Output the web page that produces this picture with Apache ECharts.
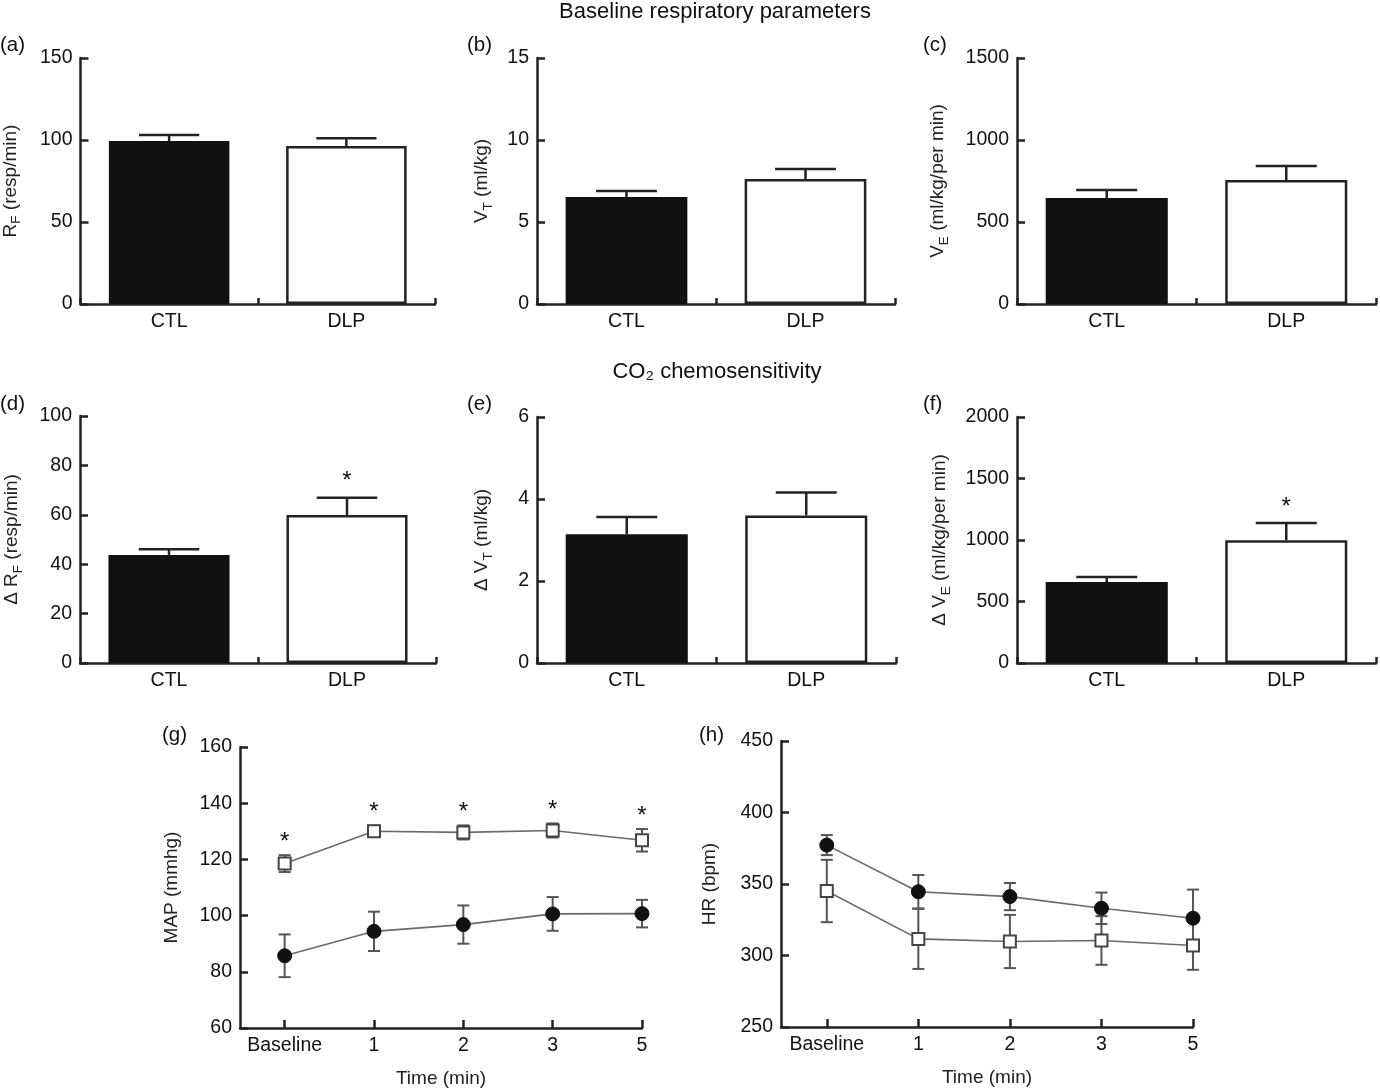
<!DOCTYPE html>
<html>
<head>
<meta charset="utf-8">
<script src="https://cdn.jsdelivr.net/npm/echarts@6/dist/echarts.min.js"></script>
<style>
html,body{margin:0;padding:0;background:#fff;}
#chart{width:1380px;height:1090px;}
</style>
</head>
<body>
<div id="chart"></div>
<script>
// ---------------- data ----------------
const groups = ['CTL', 'DLP'];

const rfMean = [99.4, 96.3];
const rfErr = [3.6, 4.7];
const vtMean = [6.52, 7.62];
const vtErr = [0.37, 0.61];
const veMean = [646, 756];
const veErr = [49, 85];

const dRfMean = [43.7, 59.9];
const dRfErr = [2.4, 7.0];
const dRfStar = [0, 1];
const dVtMean = [3.14, 3.60];
const dVtErr = [0.42, 0.56];
const dVtStar = [0, 0];
const dVeMean = [658, 998];
const dVeErr = [41, 141];
const dVeStar = [0, 1];

const times = ['Baseline', '1', '2', '3', '5'];
const mapCTL = [85.7, 94.4, 96.8, 100.6, 100.7];
const mapCTLErr = [7.6, 7.0, 6.8, 6.0, 4.9];
const mapDLP = [118.5, 130.0, 129.6, 130.3, 126.8];
const mapDLPErr = [3.0, 2.0, 2.5, 2.5, 4.0];
const mapStar = [1, 1, 1, 1, 1];

const hrCTL = [377.2, 344.6, 341.2, 333.0, 326.1];
const hrCTLErr = [7.0, 11.7, 9.5, 11.0, 20.0];
const hrDLP = [345.1, 311.6, 309.8, 310.5, 307.0];
const hrDLPErr = [21.8, 21.0, 18.6, 17.0, 17.0];

const yTicksA = [0, 150, 50];
const yTicksB = [0, 15, 5];
const yTicksC = [0, 1500, 500];
const yTicksD = [0, 100, 20];
const yTicksE = [0, 6, 2];
const yTicksF = [0, 2000, 500];
const yTicksG = [60, 160, 20];
const yTicksH = [250, 450, 50];

// ---------------- styling ----------------
const FONT = 'Liberation Sans';
const AX = '#222';
const rich = {
  m: {fontSize: 19, fontFamily: FONT, color: '#222', lineHeight: 26, verticalAlign: 'middle'},
  s: {fontSize: 13.5, fontFamily: FONT, color: '#222', lineHeight: 13, verticalAlign: 'bottom'}
};

const grids = [
  {left: 80, top: 58, width: 355, height: 246},
  {left: 537, top: 58, width: 358, height: 246},
  {left: 1017, top: 58, width: 359, height: 246},
  {left: 80, top: 416, width: 356, height: 247},
  {left: 537, top: 417, width: 359, height: 246},
  {left: 1017, top: 417, width: 359, height: 246},
  {left: 240, top: 747, width: 402, height: 281},
  {left: 781, top: 741, width: 412, height: 286}
];

const baseLine = {show: true, onZero: false, lineStyle: {color: AX, width: 2.5}};
const baseTick = {show: true, inside: true, length: 8, lineStyle: {color: AX, width: 2.5}};
const baseLabel = {color: '#111', fontSize: 19.5, fontFamily: FONT, margin: 8};

function yAx(gi, t, name, gap) {
  return {
    type: 'value', gridIndex: gi, min: t[0], max: t[1], interval: t[2],
    axisLine: baseLine,
    axisTick: baseTick,
    axisLabel: Object.assign({}, baseLabel, {formatter: v => String(v)}),
    splitLine: {show: false},
    name: name, nameLocation: 'middle', nameGap: gap, nameRotate: 90,
    nameTextStyle: {rich: rich, fontSize: 19, fontFamily: FONT, color: '#222'}
  };
}
function xCat(gi) {
  return {
    type: 'category', gridIndex: gi, data: groups, boundaryGap: true,
    axisLine: baseLine,
    axisTick: {show: true, inside: true, length: 6, alignWithLabel: false, lineStyle: {color: AX, width: 2.5}},
    axisLabel: baseLabel
  };
}
function xTime(gi) {
  const idx = times.map((t, i) => i);
  return {
    type: 'value', gridIndex: gi, min: -0.5, max: times.length - 1,
    axisLine: baseLine,
    axisTick: Object.assign({}, baseTick, {customValues: idx}),
    axisLabel: Object.assign({}, baseLabel, {customValues: idx, formatter: v => times[Math.round(v)]}),
    splitLine: {show: false},
    name: 'Time (min)', nameLocation: 'middle', nameGap: 41,
    nameTextStyle: {fontSize: 19, fontFamily: FONT, color: '#222'}
  };
}

function barSeries(gi, mean) {
  return {
    type: 'bar', xAxisIndex: gi, yAxisIndex: gi, barWidth: '68%',
    data: mean.map((v, i) => ({
      value: v,
      itemStyle: i === 0 ? {color: '#111', borderColor: '#111', borderWidth: 2}
                         : {color: '#fff', borderColor: '#222', borderWidth: 2.5}
    })),
    silent: true, z: 2
  };
}
function barErrSeries(gi, mean, err) {
  return {
    type: 'custom', xAxisIndex: gi, yAxisIndex: gi, z: 3, silent: true,
    encode: {x: 0, y: [1, 2]},
    data: mean.map((v, i) => [i, v, v + err[i]]),
    renderItem: function (params, api) {
      const p0 = api.coord([api.value(0), api.value(1)]);
      const p1 = api.coord([api.value(0), api.value(2)]);
      const hw = api.size([1, 0])[0] * 0.17;
      const st = {stroke: AX, lineWidth: 2.5};
      return {type: 'group', children: [
        {type: 'line', shape: {x1: p0[0], y1: p0[1], x2: p1[0], y2: p1[1]}, style: st},
        {type: 'line', shape: {x1: p1[0] - hw, y1: p1[1], x2: p1[0] + hw, y2: p1[1]}, style: st}
      ]};
    }
  };
}
function starSeries(gi, mean, err, flags, offset) {
  const d = [];
  flags.forEach((f, i) => { if (f) d.push([i, mean[i] + err[i]]); });
  return {
    type: 'custom', xAxisIndex: gi, yAxisIndex: gi, z: 5, silent: true,
    encode: {x: 0, y: 1},
    data: d,
    renderItem: function (params, api) {
      const p = api.coord([api.value(0), api.value(1)]);
      return {type: 'text', x: p[0], y: p[1] - offset,
        style: {text: '*', fontSize: 24, fontFamily: FONT, fill: '#111', align: 'center', verticalAlign: 'middle'}};
    }
  };
}
function lineSeries(gi, vals, filled) {
  return {
    type: 'line', xAxisIndex: gi, yAxisIndex: gi, z: 4, silent: true,
    data: vals.map((v, i) => [i, v]),
    symbol: filled ? 'circle' : 'rect',
    symbolSize: filled ? 14 : 12,
    showAllSymbol: true,
    lineStyle: {color: '#6a6a6a', width: 1.6},
    itemStyle: filled ? {color: '#111', borderColor: '#111', borderWidth: 1}
                      : {color: '#fff', borderColor: '#444', borderWidth: 2}
  };
}
function lineErrSeries(gi, vals, err) {
  return {
    type: 'custom', xAxisIndex: gi, yAxisIndex: gi, z: 3, silent: true,
    encode: {x: 0, y: [1, 2]},
    data: vals.map((v, i) => [i, v - err[i], v + err[i]]),
    renderItem: function (params, api) {
      const lo = api.coord([api.value(0), api.value(1)]);
      const hi = api.coord([api.value(0), api.value(2)]);
      const hw = 6;
      const st = {stroke: '#555', lineWidth: 2};
      return {type: 'group', children: [
        {type: 'line', shape: {x1: lo[0], y1: lo[1], x2: hi[0], y2: hi[1]}, style: st},
        {type: 'line', shape: {x1: hi[0] - hw, y1: hi[1], x2: hi[0] + hw, y2: hi[1]}, style: st},
        {type: 'line', shape: {x1: lo[0] - hw, y1: lo[1], x2: lo[0] + hw, y2: lo[1]}, style: st}
      ]};
    }
  };
}

function txt(x, y, s, size, align) {
  return {type: 'text', x: x, y: y, silent: true,
    style: {text: s, fontSize: size, fontFamily: FONT, fill: '#111', align: align || 'left', verticalAlign: 'middle'}};
}

const option = {
  backgroundColor: '#fff',
  animation: false,
  grid: grids,
  xAxis: [xCat(0), xCat(1), xCat(2), xCat(3), xCat(4), xCat(5), xTime(6), xTime(7)],
  yAxis: [
    yAx(0, yTicksA, '{m|R}{s|F}{m| (resp/min)}', 57),
    yAx(1, yTicksB, '{m|V}{s|T}{m| (ml/kg)}', 42),
    yAx(2, yTicksC, '{m|V}{s|E}{m| (ml/kg/per min)}', 66),
    yAx(3, yTicksD, '{m|Δ R}{s|F}{m| (resp/min)}', 55),
    yAx(4, yTicksE, '{m|Δ V}{s|T}{m| (ml/kg)}', 42),
    yAx(5, yTicksF, '{m|Δ V}{s|E}{m| (ml/kg/per min)}', 64),
    yAx(6, yTicksG, '{m|MAP (mmhg)}', 55),
    yAx(7, yTicksH, '{m|HR (bpm)}', 58)
  ],
  series: [
    barSeries(0, rfMean), barErrSeries(0, rfMean, rfErr),
    barSeries(1, vtMean), barErrSeries(1, vtMean, vtErr),
    barSeries(2, veMean), barErrSeries(2, veMean, veErr),
    barSeries(3, dRfMean), barErrSeries(3, dRfMean, dRfErr), starSeries(3, dRfMean, dRfErr, dRfStar, 16),
    barSeries(4, dVtMean), barErrSeries(4, dVtMean, dVtErr), starSeries(4, dVtMean, dVtErr, dVtStar, 16),
    barSeries(5, dVeMean), barErrSeries(5, dVeMean, dVeErr), starSeries(5, dVeMean, dVeErr, dVeStar, 16),
    lineErrSeries(6, mapCTL, mapCTLErr), lineSeries(6, mapCTL, true),
    lineErrSeries(6, mapDLP, mapDLPErr), lineSeries(6, mapDLP, false),
    starSeries(6, mapDLP, mapDLPErr, mapStar, 13),
    lineErrSeries(7, hrCTL, hrCTLErr), lineSeries(7, hrCTL, true),
    lineErrSeries(7, hrDLP, hrDLPErr), lineSeries(7, hrDLP, false)
  ],
  graphic: [
    txt(715, 12, 'Baseline respiratory parameters', 22, 'center'),
    txt(717, 372, 'CO₂ chemosensitivity', 22, 'center'),
    txt(0, 45, '(a)', 20.5), txt(467, 45, '(b)', 20.5), txt(923, 45, '(c)', 20.5),
    txt(0, 404, '(d)', 20.5), txt(467, 404, '(e)', 20.5), txt(923, 404, '(f)', 20.5),
    txt(162, 735, '(g)', 20.5), txt(699, 735, '(h)', 20.5)
  ]
};

const chart = echarts.init(document.getElementById('chart'), null, {renderer: 'canvas'});
chart.setOption(option);
</script>
</body>
</html>
